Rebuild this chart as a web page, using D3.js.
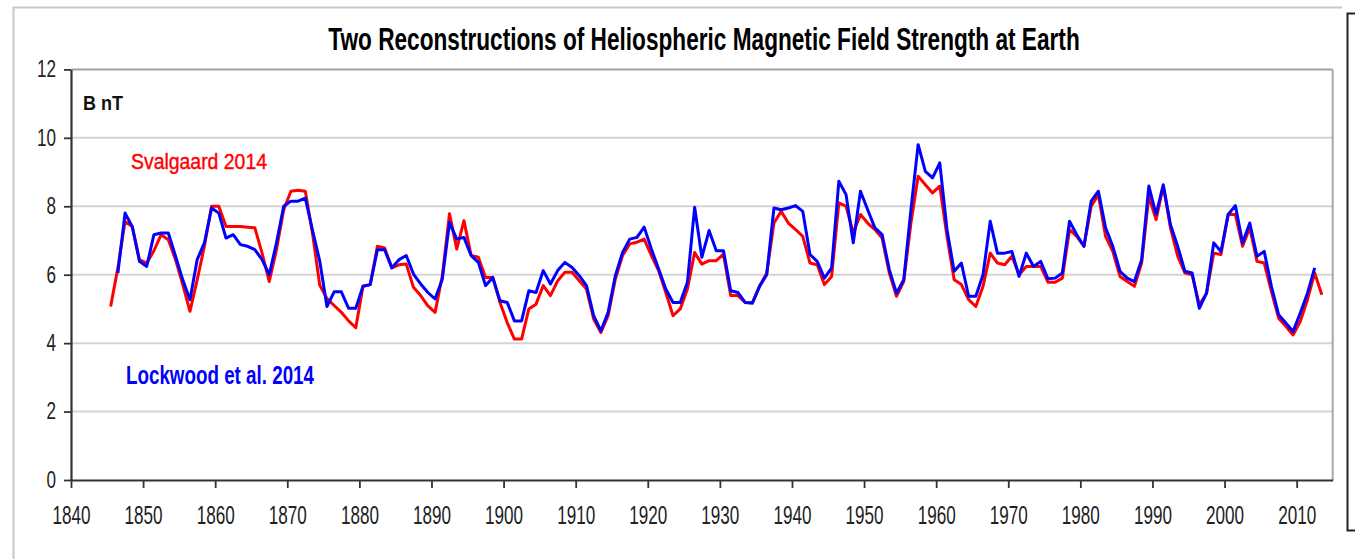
<!DOCTYPE html>
<html>
<head>
<meta charset="utf-8">
<script src="https://cdn.jsdelivr.net/npm/d3@7"></script>
<style>
  html, body { margin: 0; padding: 0; background: #fff; }
  svg { display: block; font-family: "Liberation Sans", Arial, sans-serif; }
</style>
</head>
<body>
<svg id="chart" width="1355" height="559"></svg>
<script>
// ---- data ----
const title = "Two Reconstructions of Heliospheric Magnetic Field Strength at Earth";
const unitLabel = "B nT";
const seriesNames = ["Svalgaard 2014", "Lockwood et al. 2014"];
const xTicks = [1840, 1850, 1860, 1870, 1880, 1890, 1900, 1910, 1920, 1930, 1940, 1950, 1960, 1970, 1980, 1990, 2000, 2010];
const yTicks = [0, 2, 4, 6, 8, 10, 12];

const svalgaardStart = 1845;
const svalgaard = [
  5.07, 6.2, 7.56, 7.4, 6.44, 6.34, 6.7, 7.17, 7.02, 6.44,        // 1845-1854
  5.71, 4.93, 5.85, 6.83, 8.0, 8.0, 7.41, 7.41, 7.41, 7.39,       // 1855-1864
  7.37, 6.63, 5.8, 6.73, 7.9, 8.44, 8.47, 8.44, 7.2, 5.7,         // 1865-1874
  5.3, 5.1, 4.9, 4.65, 4.45, 5.66, 5.71, 6.83, 6.78, 6.2,         // 1875-1884
  6.29, 6.31, 5.63, 5.39, 5.09, 4.9, 5.97, 7.78, 6.75, 7.58,      // 1885-1894
  6.56, 6.51, 5.92, 5.92, 5.19, 4.6, 4.12, 4.12, 5.0, 5.14,       // 1895-1904
  5.68, 5.39, 5.82, 6.07, 6.07, 5.82, 5.58, 4.7, 4.31, 4.8,       // 1905-1914
  5.87, 6.56, 6.9, 6.95, 7.04, 6.56, 6.12, 5.48, 4.8, 5.0,        // 1915-1924
  5.58, 6.65, 6.31, 6.41, 6.41, 6.6, 5.39, 5.39, 5.19, 5.17,      // 1925-1934
  5.66, 6.05, 7.51, 7.85, 7.51, 7.32, 7.12, 6.34, 6.29, 5.71,     // 1935-1944
  5.95, 8.1, 8.0, 7.22, 7.76, 7.51, 7.32, 7.07, 6.05, 5.37,       // 1945-1954
  5.8, 7.51, 8.88, 8.63, 8.39, 8.59, 7.12, 5.85, 5.71, 5.27,      // 1955-1964
  5.07, 5.66, 6.63, 6.34, 6.29, 6.54, 6.0, 6.24, 6.24, 6.24,      // 1965-1974
  5.78, 5.78, 5.9, 7.32, 7.12, 6.83, 8.0, 8.34, 7.12, 6.68,       // 1975-1984
  5.95, 5.8, 5.66, 6.34, 8.29, 7.61, 8.59, 7.37, 6.54, 6.05,      // 1985-1994
  6.0, 5.12, 5.46, 6.63, 6.59, 7.76, 7.76, 6.83, 7.37, 6.39,      // 1995-2004
  6.34, 5.51, 4.73, 4.49, 4.24, 4.63, 5.27, 6.05, 5.41            // 2005-2013
];

const lockwoodStart = 1846;
const lockwood = [
  6.05, 7.8, 7.4, 6.39, 6.24, 7.17, 7.22, 7.22, 6.54,             // 1846-1854
  5.85, 5.27, 6.44, 6.93, 7.95, 7.8, 7.07, 7.17, 6.88, 6.83,      // 1855-1864
  6.73, 6.44, 6.0, 6.93, 8.0, 8.15, 8.15, 8.24, 7.3, 6.4,         // 1865-1874
  5.07, 5.5, 5.5, 5.02, 5.02, 5.66, 5.71, 6.73, 6.73, 6.2,        // 1875-1884
  6.44, 6.56, 6.02, 5.73, 5.48, 5.29, 5.87, 7.53, 7.04, 7.09,     // 1885-1894
  6.56, 6.36, 5.68, 5.92, 5.24, 5.19, 4.65, 4.65, 5.53, 5.48,     // 1895-1904
  6.12, 5.73, 6.12, 6.36, 6.21, 5.97, 5.68, 4.8, 4.36, 4.9,       // 1905-1914
  5.97, 6.65, 7.04, 7.09, 7.39, 6.75, 6.17, 5.58, 5.19, 5.19,     // 1915-1924
  5.78, 7.97, 6.51, 7.29, 6.7, 6.7, 5.53, 5.48, 5.19, 5.17,       // 1925-1934
  5.66, 6.0, 7.95, 7.9, 7.95, 8.02, 7.85, 6.59, 6.39, 5.9,        // 1935-1944
  6.2, 8.73, 8.34, 6.93, 8.44, 7.9, 7.37, 7.17, 6.15, 5.46,       // 1945-1954
  5.85, 7.9, 9.8, 9.02, 8.83, 9.27, 7.32, 6.1, 6.34, 5.37,        // 1955-1964
  5.37, 6.0, 7.56, 6.63, 6.63, 6.68, 5.95, 6.63, 6.24, 6.39,      // 1965-1974
  5.88, 5.9, 6.05, 7.56, 7.17, 6.83, 8.15, 8.44, 7.37, 6.83,      // 1975-1984
  6.1, 5.9, 5.8, 6.44, 8.59, 7.76, 8.63, 7.46, 6.83, 6.1,         // 1985-1994
  6.05, 5.02, 5.46, 6.93, 6.68, 7.76, 8.02, 6.93, 7.51, 6.54,     // 1995-2004
  6.68, 5.66, 4.83, 4.59, 4.34, 4.88, 5.46, 6.2                   // 2005-2012
];

const svalgaardData = svalgaard.map((v, i) => ({ year: svalgaardStart + i, value: v }));
const lockwoodData = lockwood.map((v, i) => ({ year: lockwoodStart + i, value: v }));

// ---- layout ----
const svg = d3.select("#chart");
const plot = { left: 71, right: 1332.7, top: 69.4, bottom: 480 };

const x = d3.scaleLinear().domain([1840, 2015]).range([plot.left, plot.right]);
const y = d3.scaleLinear().domain([0, 12]).range([plot.bottom, plot.top]);

// outer frame
svg.append("path")
  .attr("d", `M13.5,${559} L13.5,7.5 L1342,7.5`)
  .attr("fill", "none").attr("stroke", "#c8c8c8").attr("stroke-width", 2);

// black box at right edge
svg.append("rect")
  .attr("x", 1347.5).attr("y", 13.5).attr("width", 30).attr("height", 517)
  .attr("fill", "none").attr("stroke", "#222").attr("stroke-width", 2);

// gridlines
svg.append("g").selectAll("line")
  .data(yTicks.filter(d => d > 0 && d < 12))
  .join("line")
  .attr("x1", plot.left).attr("x2", plot.right)
  .attr("y1", d => y(d)).attr("y2", d => y(d))
  .attr("stroke", "#d4d4d4").attr("stroke-width", 2);

// top and right border
svg.append("line").attr("x1", plot.left).attr("x2", plot.right)
  .attr("y1", y(12)).attr("y2", y(12)).attr("stroke", "#a0a0a0").attr("stroke-width", 2);
svg.append("line").attr("x1", plot.right).attr("x2", plot.right)
  .attr("y1", y(12)).attr("y2", y(0)).attr("stroke", "#a8a8a8").attr("stroke-width", 2);

// axes
const xAxis = d3.axisBottom(x).tickValues(xTicks).tickFormat(d3.format("d")).tickSize(8).tickPadding(18).tickSizeOuter(0);
const gx = svg.append("g").attr("transform", `translate(0,${plot.bottom})`).call(xAxis);
gx.select(".domain").attr("stroke", "#333").attr("stroke-width", 2.2);
gx.selectAll(".tick line").attr("stroke", "#333").attr("stroke-width", 1.8);
gx.selectAll(".tick text")
  .attr("fill", "#222").attr("font-size", 25)
  .attr("font-family", "'Liberation Sans', Arial, sans-serif")
  .attr("textLength", 38).attr("lengthAdjust", "spacingAndGlyphs");

const yAxis = d3.axisLeft(y).tickValues(yTicks).tickFormat(d3.format("d")).tickSize(7).tickPadding(8).tickSizeOuter(0);
const gy = svg.append("g").attr("transform", `translate(${plot.left},0)`).call(yAxis);
gy.select(".domain").attr("stroke", "#333").attr("stroke-width", 2.2);
gy.selectAll(".tick line").attr("stroke", "#333").attr("stroke-width", 1.8);
gy.selectAll(".tick text")
  .attr("fill", "#222").attr("font-size", 23)
  .attr("font-family", "'Liberation Sans', Arial, sans-serif")
  .attr("textLength", d => String(d).length * 9.5).attr("lengthAdjust", "spacingAndGlyphs");

// lines
const line = d3.line().x(d => x(d.year + 0.5)).y(d => y(d.value));
const lines = svg.append("g");
lines.append("path").datum(svalgaardData)
  .attr("d", line).attr("fill", "none").attr("stroke", "#ff0000")
  .attr("stroke-width", 3).attr("stroke-linejoin", "round");
lines.append("path").datum(lockwoodData)
  .attr("d", line).attr("fill", "none").attr("stroke", "#0000ff")
  .attr("stroke-width", 3).attr("stroke-linejoin", "round");

// title: condensed horizontally with a measured scale so its box is exactly the target width
const titleG = svg.append("g");
const titleText = titleG.append("text")
  .attr("x", 0).attr("y", 0).attr("text-anchor", "middle")
  .attr("font-size", 31).attr("font-weight", "bold").attr("fill", "#000")
  .text(title);
const natural = titleText.node().getComputedTextLength() || 752;
titleG.attr("transform", `translate(704,50) scale(${752 / natural},1)`);

// unit label
svg.append("text")
  .attr("x", 83).attr("y", 109.5)
  .attr("font-size", 21).attr("font-weight", "bold").attr("fill", "#111")
  .attr("textLength", 40).attr("lengthAdjust", "spacingAndGlyphs")
  .text(unitLabel);

// series labels
svg.append("text")
  .attr("x", 131).attr("y", 169)
  .attr("font-size", 22).attr("fill", "#ff0000")
  .attr("stroke", "#ff0000").attr("stroke-width", 0.4)
  .attr("textLength", 136).attr("lengthAdjust", "spacingAndGlyphs")
  .text(seriesNames[0]);
svg.append("text")
  .attr("x", 126).attr("y", 383.5)
  .attr("font-size", 25).attr("font-weight", "bold").attr("fill", "#0000ff")
  .attr("textLength", 188).attr("lengthAdjust", "spacingAndGlyphs")
  .text(seriesNames[1]);
</script>
</body>
</html>
